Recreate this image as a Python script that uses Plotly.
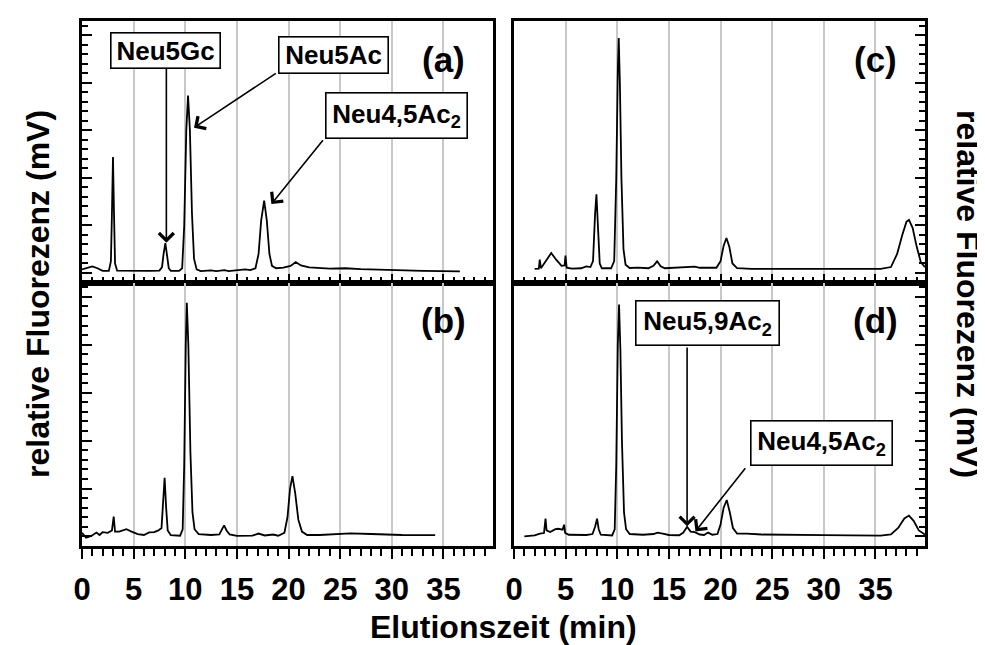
import plotly.graph_objects as go

# ---------------- data (time in min, relative fluorescence) ----------------
# panel (a)
t_a = [0.0, 0.5, 1.0, 1.5, 2.0, 2.6, 2.8, 2.9, 3.0, 3.1, 3.2, 3.4, 5.0, 6.5, 7.5, 7.75, 7.9, 8.07, 8.25, 8.4,
       8.6, 9.4, 9.7, 9.9, 10.1, 10.27, 10.45, 10.65, 10.85, 11.1, 11.5, 12.5, 13.0, 13.8, 14.2, 15.0, 15.8,
       16.3, 16.8, 17.1, 17.35, 17.64, 17.9, 18.15, 18.4, 18.8, 19.5, 20.2, 20.7, 21.2, 22.0, 24.0, 25.5,
       27.0, 30.0, 33.0, 36.6]
v_a = [1.5, 2.3, 2.8, 2.0, 0.9, 0.9, 5.0, 25.0, 48.8, 25.0, 4.0, 1.0, 0.8, 0.9, 1.0, 2.5, 8.0, 12.6, 7.0, 2.0,
       0.9, 0.9, 2.0, 20.0, 60.0, 74.6, 60.0, 25.0, 6.0, 1.5, 0.8, 1.1, 0.8, 1.2, 0.8, 1.0, 1.5,
       1.2, 2.0, 8.0, 22.0, 30.4, 22.0, 8.0, 3.0, 2.0, 2.3, 3.0, 4.6, 3.2, 2.4, 1.8, 2.0,
       1.6, 1.2, 0.9, 0.7]

# panel (b)
t_b = [0.0, 0.4, 0.9, 1.4, 1.7, 2.0, 2.5, 2.9, 3.07, 3.2, 3.6, 4.3, 4.8, 5.4, 6.0, 6.5, 7.0, 7.4, 7.7, 7.85,
       8.0, 8.15, 8.3, 8.6, 9.5, 9.75, 9.9, 10.05, 10.15, 10.3, 10.5, 10.7, 10.9, 11.3, 12.5, 13.3, 13.55,
       13.76, 14.0, 14.3, 15.0, 16.5, 17.1, 17.7, 18.5, 19.0, 19.6, 19.9, 20.15, 20.38, 20.65, 20.95, 21.3,
       21.8, 23.0, 25.0, 26.0, 28.0, 31.0, 34.2]
v_b = [1.5, -0.5, 0.2, 1.6, 0.6, 1.8, 1.5, 2.5, 8.3, 2.0, 2.0, 3.0, 2.0, 1.0, 0.6, 1.7, 1.8, 2.5, 3.5, 12.0,
       24.5, 12.0, 2.5, 0.5, 0.3, 3.0, 30.0, 80.0, 97.5, 80.0, 35.0, 10.0, 3.0, 1.0, 0.6, 0.8, 3.0,
       4.6, 2.5, 0.8, 0.2, 0.3, 1.2, 0.4, 0.8, 0.3, 1.5, 8.0, 20.0, 25.2, 18.0, 7.0, 2.0,
       0.6, 0.6, 1.1, 1.3, 1.0, 0.6, 0.5]

# panel (c)
t_c = [2.0, 2.4, 2.49, 2.6, 3.0, 3.6, 4.1, 4.6, 4.9, 4.98, 5.1, 5.6, 6.5, 7.0, 7.4, 7.65, 7.85, 7.98, 8.1,
       8.3, 8.5, 9.4, 9.7, 9.9, 10.05, 10.14, 10.25, 10.4, 10.6, 10.8, 11.2, 12.0, 13.0, 13.5, 13.86, 14.2,
       14.6, 16.0, 17.5, 18.0, 18.8, 19.6, 20.0, 20.3, 20.57, 20.85, 21.15, 21.6, 23.0, 30.0, 35.5, 36.5,
       37.1, 37.6, 38.0, 38.25, 38.6, 39.0, 39.4, 39.8]
v_c = [1.7, 1.8, 5.6, 2.0, 4.5, 8.4, 5.5, 3.0, 3.2, 7.3, 2.2, 1.8, 2.0, 2.8, 2.5, 5.0, 25.0, 33.1, 22.0,
       4.0, 2.0, 2.0, 5.0, 40.0, 85.0, 98.8, 80.0, 40.0, 10.0, 3.5, 2.1, 2.3, 2.0, 3.0, 4.9, 2.8,
       2.0, 2.4, 2.7, 2.2, 2.3, 2.2, 5.0, 11.5, 14.7, 11.0, 4.0, 2.0, 1.7, 1.6, 1.7, 2.5,
       8.0, 16.0, 21.5, 22.3, 19.0, 11.0, 4.5, 2.5]

# panel (d)
t_d = [1.0, 2.0, 2.5, 2.9, 3.05, 3.15, 3.5, 4.0, 4.3, 4.7, 4.85, 4.95, 5.3, 6.0, 7.0, 7.6, 7.85, 8.04, 8.2,
       8.4, 9.5, 9.75, 9.9, 10.05, 10.17, 10.3, 10.45, 10.65, 10.85, 11.2, 12.5, 13.5, 13.9, 14.4, 15.0,
       16.0, 16.4, 16.76, 17.1, 17.5, 18.0, 18.4, 18.8, 19.2, 19.7, 20.0, 20.3, 20.6, 20.9, 21.2, 21.6,
       22.5, 24.0, 30.0, 35.5, 36.5, 37.2, 37.8, 38.25, 38.7, 39.2, 39.8]
v_d = [0.0, 0.4, 1.2, 1.4, 7.4, 2.5, 1.8, 3.0, 3.2, 2.8, 4.9, 1.5, 0.7, 0.7, 0.6, 1.0, 4.0, 7.4, 3.0,
       0.7, 0.4, 3.0, 30.0, 80.0, 96.8, 78.0, 40.0, 10.0, 3.0, 1.0, 0.7, 1.0, 1.6, 1.2, 0.6,
       0.5, 1.6, 4.0, 2.0, 1.8, 0.8, 0.6, 1.6, 0.7, 1.0, 5.0, 12.0, 15.2, 10.0, 3.5, 1.2,
       1.2, 0.8, 0.5, 0.3, 0.8, 3.5, 7.5, 8.7, 6.5, 2.5, 0.8]

x_tickvals = [0, 5, 10, 15, 20, 25, 30, 35]
panel_labels = ["(a)", "(c)", "(b)", "(d)"]
x_title = "Elutionszeit (min)"
y_title = "relative Fluorezenz (mV)"

# ---------------- figure ----------------
FONT = "Arial, 'Liberation Sans', sans-serif"
XR = [0, 39.8]
YR = [-4, 106]

fig = go.Figure()
panels = [("x", "y", t_a, v_a), ("x2", "y2", t_c, v_c), ("x3", "y3", t_b, v_b), ("x4", "y4", t_d, v_d)]
for xa, ya, t, v in panels:
    fig.add_trace(go.Scatter(x=t, y=v, mode="lines", line=dict(color="black", width=1.8),
                             xaxis=xa, yaxis=ya, showlegend=False, hoverinfo="skip"))


def xax(domain, anchor, lower):
    return dict(domain=domain, anchor=anchor, range=XR, showline=True, linecolor="black", linewidth=2.6,
                mirror=True, showgrid=True, gridcolor="#c8c8c8", gridwidth=1.5, tickvals=x_tickvals,
                zeroline=False, ticks="outside" if lower else "inside", ticklen=10 if lower else 9,
                tickwidth=2, tickcolor="black",
                minor=dict(dtick=1, tick0=0, ticks="outside" if lower else "inside", ticklen=7 if lower else 6,
                           tickwidth=1.8, tickcolor="black", showgrid=False),
                showticklabels=lower,
                tickfont=dict(family=FONT, size=31, color="black", weight="bold"),
                ticklabelstandoff=4, fixedrange=True)


def yax(domain, anchor, side):
    return dict(domain=domain, anchor=anchor, range=YR, side=side, showline=True, linecolor="black",
                linewidth=2.6, mirror=True, showgrid=False, zeroline=False, dtick=20, tick0=0,
                ticks="inside", ticklen=10, tickwidth=2, tickcolor="black",
                minor=dict(dtick=4, tick0=0, ticks="inside", ticklen=6, tickwidth=1.8, tickcolor="black"),
                showticklabels=False, fixedrange=True)


XL = [0, 0.4875]
XRD = [0.5125, 1]
YU = [0.5019, 1]
YL = [0, 0.5019]

BOLD = lambda s: "<b>" + s + "</b>"


def box(text, xr, yr, x, y, w, h):
    return dict(text=BOLD(text), xref=xr, yref=yr, x=x, y=y, showarrow=False,
                font=dict(family=FONT, size=26, color="black"), bgcolor="white", bordercolor="black",
                borderwidth=1.6, borderpad=2, width=w, height=h, xanchor="center", yanchor="middle")


def arrow(xr, yr, x, y, ax, ay):
    return dict(text="", xref=xr, yref=yr, x=x, y=y, ax=ax, ay=ay, axref=xr, ayref=yr, showarrow=True,
                arrowhead=4, arrowsize=1.8, arrowwidth=1.6, arrowcolor="black", standoff=0, startstandoff=0)


annotations = [
    arrow("x", "y", 8.17, 12.7, 8.17, 86.5),
    arrow("x", "y", 10.85, 61.1, 18.92, 84.4),
    arrow("x", "y", 18.34, 29.0, 23.45, 56.5),
    arrow("x4", "y4", 16.76, 4.2, 16.76, 79.5),
    arrow("x4", "y4", 17.57, 2.1, 22.51, 29.1),
    box("Neu5Gc", "x", "y", 8.1, 93.8, 104, 30),
    box("Neu5Ac", "x", "y", 24.4, 91.9, 104, 31),
    box("Neu4,5Ac<sub>2</sub>", "x", "y", 30.5, 66.2, 136, 40),
    box("Neu5,9Ac<sub>2</sub>", "x4", "y4", 18.75, 89.1, 138, 39),
    box("Neu4,5Ac<sub>2</sub>", "x4", "y4", 29.8, 38.8, 136, 39),
]
for lab, (xr, yr) in zip(panel_labels, [("x", "y"), ("x2", "y2"), ("x3", "y3"), ("x4", "y4")]):
    annotations.append(dict(text=BOLD(lab), xref=xr, yref=yr, x=35, y=90, showarrow=False,
                            font=dict(family=FONT, size=35, color="black"), xanchor="center", yanchor="middle"))

annotations.append(dict(text=BOLD(x_title), xref="paper", yref="paper", x=0.5, y=-0.155, showarrow=False,
                        font=dict(family=FONT, size=32, color="black"), xanchor="center", yanchor="middle"))
annotations.append(dict(text=BOLD(y_title), xref="paper", yref="paper", x=-0.0522, y=0.48, showarrow=False,
                        textangle=-90, font=dict(family=FONT, size=32, color="black"),
                        xanchor="center", yanchor="middle"))
annotations.append(dict(text=BOLD(y_title), xref="paper", yref="paper", x=1.051, y=0.48, showarrow=False,
                        textangle=90, font=dict(family=FONT, size=32, color="black"),
                        xanchor="center", yanchor="middle"))

fig.update_layout(
    width=985, height=645, margin=dict(l=74, r=68, t=10, b=107),
    paper_bgcolor="white", plot_bgcolor="white",
    font=dict(family=FONT, color="black"),
    xaxis=xax(XL, "y", False), yaxis=yax(YU, "x", "left"),
    xaxis2=xax(XRD, "y2", False), yaxis2=yax(YU, "x2", "right"),
    xaxis3=xax(XL, "y3", True), yaxis3=yax(YL, "x3", "left"),
    xaxis4=xax(XRD, "y4", True), yaxis4=yax(YL, "x4", "right"),
    annotations=annotations,
)

fig.write_html("out.html")
